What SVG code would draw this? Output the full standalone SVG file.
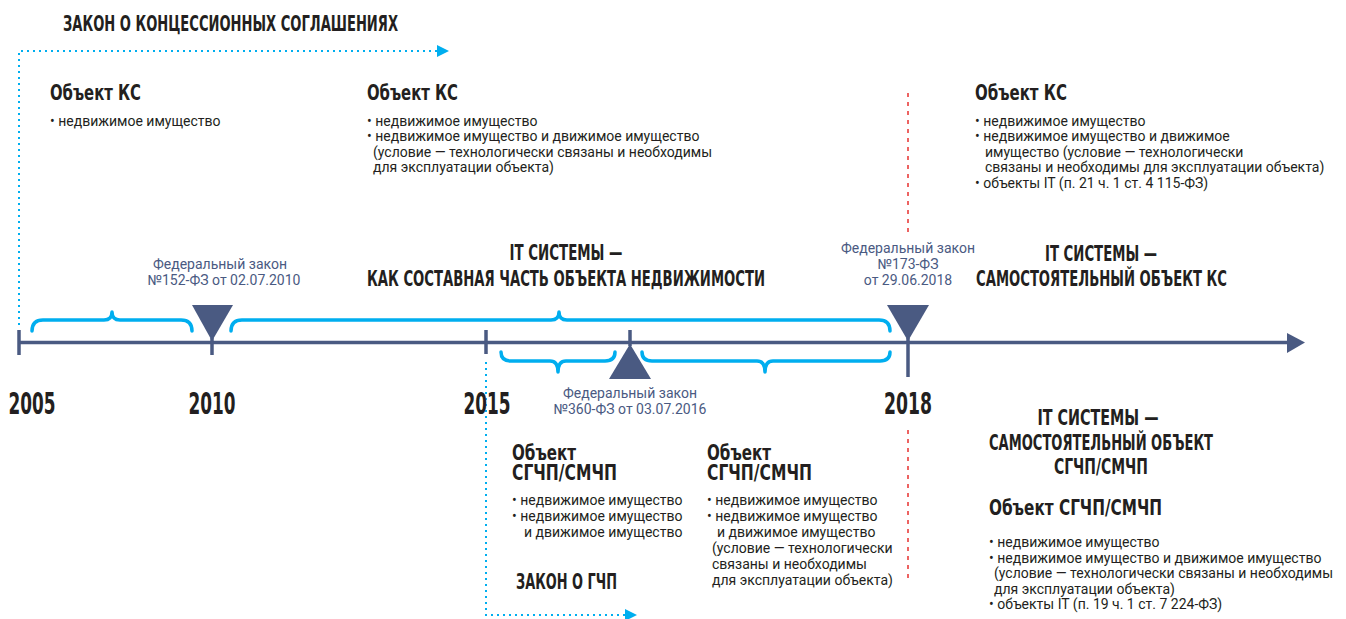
<svg xmlns="http://www.w3.org/2000/svg" width="1346" height="619" viewBox="0 0 1346 619">
<style>
.h{font-family:"Liberation Sans Narrow","DejaVu Sans Condensed","Liberation Sans",sans-serif;font-weight:bold;fill:#231f20;}
.t{font-family:Roboto,"Liberation Sans",sans-serif;font-size:14px;fill:#231f20;}
.f{font-family:Roboto,"Liberation Sans",sans-serif;font-size:14px;fill:#4a5a82;text-anchor:middle;}
.yr{font-family:"Liberation Sans Narrow","DejaVu Sans Condensed",sans-serif;font-weight:bold;font-size:30px;fill:#231f20;text-anchor:middle;}
.ax{stroke:#4a5a82;stroke-width:3.5;fill:none;}
.br{stroke:#00aeef;stroke-width:3.5;fill:none;stroke-linecap:round;stroke-linejoin:round;}
.dot{stroke:#00aeef;stroke-width:2;fill:none;stroke-dasharray:2 4;}
.red{stroke:#e8312f;stroke-width:1.5;fill:none;stroke-dasharray:4 5;}
.tri{fill:#4a5a82;}
.blu{fill:#00aeef;}
</style>
<rect width="1346" height="619" fill="#ffffff"/>
<g id="connectors">
<line class="ax" x1="19" y1="342.5" x2="1292" y2="342.5"/>
<polygon class="tri" points="1287,333 1305,342.5 1287,353"/>
<line class="ax" x1="19" y1="330" x2="19" y2="355"/>
<line class="ax" x1="212" y1="338" x2="212" y2="355"/>
<line class="ax" x1="486" y1="330" x2="486" y2="354"/>
<line class="ax" x1="630" y1="330" x2="630" y2="346"/>
<line class="ax" x1="908" y1="338" x2="908" y2="377"/>
<path class="br" d="M32,331 Q32,320 43,320 L104,320 Q112,320 112,312 Q112,320 120,320 L181,320 Q192,320 192,331"/>
<path class="br" d="M231,331 Q231,320 242,320 L551,320 Q559,320 559,312 Q559,320 567,320 L879,320 Q890,320 890,331"/>
<path class="br" d="M501,352 Q501,361 511,361 L550,361 Q558,361 558,372 Q558,361 566,361 L605,361 Q615,361 615,352"/>
<path class="br" d="M642,352 Q642,361 652,361 L757,361 Q765,361 765,372 Q765,361 773,361 L880,361 Q890,361 890,352"/>
<polyline class="dot" points="19,325 19,51 438,51"/>
<polygon class="blu" points="437,45 449,51 437,57"/>
<polyline class="dot" points="486,362 486,615 625,615"/>
<polygon class="blu" points="625,609 637,615 625,621"/>
<line class="red" x1="908" y1="93" x2="908" y2="232"/>
<line class="red" x1="908" y1="430" x2="908" y2="582"/>
</g>
<g id="markers">
<polygon class="tri" points="192,305 233,305 212,341"/>
<polygon class="tri" points="887,305 929,305 908,341"/>
<polygon class="tri" points="609,379 651,379 630,344"/>
</g>
<g id="years">
<text class="yr" x="32" y="414" textLength="47" lengthAdjust="spacingAndGlyphs">2005</text>
<text class="yr" x="212" y="414" textLength="47" lengthAdjust="spacingAndGlyphs">2010</text>
<text class="yr" x="487" y="414" textLength="47" lengthAdjust="spacingAndGlyphs">2015</text>
<text class="yr" x="908" y="414" textLength="48" lengthAdjust="spacingAndGlyphs">2018</text>
</g>
<g id="law-ks">
<text class="h" x="63" y="31" font-size="22" textLength="335" lengthAdjust="spacingAndGlyphs">ЗАКОН О КОНЦЕССИОННЫХ СОГЛАШЕНИЯХ</text>
</g>
<g id="ks-2005">
<text class="h" x="50" y="100" font-size="21" textLength="91" lengthAdjust="spacingAndGlyphs">Объект КС</text>
<text class="t" x="50" y="126">• недвижимое имущество</text>
</g>
<g id="ks-2010">
<text class="h" x="367" y="100" font-size="21" textLength="91" lengthAdjust="spacingAndGlyphs">Объект КС</text>
<text class="t" x="367" y="126">• недвижимое имущество</text>
<text class="t" x="367" y="141">• недвижимое имущество и движимое имущество</text>
<text class="t" x="373" y="157">(условие — технологически связаны и необходимы</text>
<text class="t" x="373" y="172">для эксплуатации объекта)</text>
</g>
<g id="ks-2018">
<text class="h" x="975" y="100" font-size="21" textLength="92" lengthAdjust="spacingAndGlyphs">Объект КС</text>
<text class="t" x="975" y="126">• недвижимое имущество</text>
<text class="t" x="975" y="141">• недвижимое имущество и движимое</text>
<text class="t" x="985" y="157">имущество (условие — технологически</text>
<text class="t" x="985" y="172">связаны и необходимы для эксплуатации объекта)</text>
<text class="t" x="975" y="188">• объекты IT (п. 21 ч. 1 ст. 4 115-ФЗ)</text>
</g>
<g id="fz152">
<text class="f" x="220" y="269">Федеральный закон</text>
<text class="f" x="224" y="285">№152-ФЗ от 02.07.2010</text>
</g>
<g id="it-part">
<text class="h" x="566" y="260" font-size="22" text-anchor="middle" textLength="113" lengthAdjust="spacingAndGlyphs">IT СИСТЕМЫ —</text>
<text class="h" x="367" y="286" font-size="22" textLength="398" lengthAdjust="spacingAndGlyphs">КАК СОСТАВНАЯ ЧАСТЬ ОБЪЕКТА НЕДВИЖИМОСТИ</text>
</g>
<g id="fz173">
<text class="f" x="908" y="253">Федеральный закон</text>
<text class="f" x="908" y="269">№173-ФЗ</text>
<text class="f" x="908" y="285">от 29.06.2018</text>
</g>
<g id="it-ks">
<text class="h" x="1101" y="261" font-size="22" text-anchor="middle" textLength="112" lengthAdjust="spacingAndGlyphs">IT СИСТЕМЫ —</text>
<text class="h" x="976" y="286" font-size="22" textLength="251" lengthAdjust="spacingAndGlyphs">САМОСТОЯТЕЛЬНЫЙ ОБЪЕКТ КС</text>
</g>
<g id="fz360">
<text class="f" x="630" y="398">Федеральный закон</text>
<text class="f" x="630" y="414">№360-ФЗ от 03.07.2016</text>
</g>
<g id="gchp-2015">
<text class="h" x="512" y="460" font-size="21" textLength="64" lengthAdjust="spacingAndGlyphs">Объект</text>
<text class="h" x="512" y="480" font-size="21" textLength="105" lengthAdjust="spacingAndGlyphs">СГЧП/СМЧП</text>
<text class="t" x="512" y="505">• недвижимое имущество</text>
<text class="t" x="512" y="521">• недвижимое имущество</text>
<text class="t" x="524" y="537">и движимое имущество</text>
</g>
<g id="law-gchp">
<text class="h" x="516" y="589" font-size="22" textLength="101" lengthAdjust="spacingAndGlyphs">ЗАКОН О ГЧП</text>
</g>
<g id="gchp-2016">
<text class="h" x="707" y="460" font-size="21" textLength="64" lengthAdjust="spacingAndGlyphs">Объект</text>
<text class="h" x="707" y="480" font-size="21" textLength="105" lengthAdjust="spacingAndGlyphs">СГЧП/СМЧП</text>
<text class="t" x="707" y="505">• недвижимое имущество</text>
<text class="t" x="707" y="521">• недвижимое имущество</text>
<text class="t" x="717" y="537">и движимое имущество</text>
<text class="t" x="712" y="553">(условие — технологически</text>
<text class="t" x="712" y="569">связаны и необходимы</text>
<text class="t" x="712" y="585">для эксплуатации объекта)</text>
</g>
<g id="it-gchp">
<text class="h" x="1098" y="425" font-size="22" text-anchor="middle" textLength="121" lengthAdjust="spacingAndGlyphs">IT СИСТЕМЫ —</text>
<text class="h" x="1101" y="450" font-size="22" text-anchor="middle" textLength="224" lengthAdjust="spacingAndGlyphs">САМОСТОЯТЕЛЬНЫЙ ОБЪЕКТ</text>
<text class="h" x="1101" y="474" font-size="22" text-anchor="middle" textLength="94" lengthAdjust="spacingAndGlyphs">СГЧП/СМЧП</text>
</g>
<g id="gchp-2018">
<text class="h" x="989" y="515" font-size="21" textLength="173" lengthAdjust="spacingAndGlyphs">Объект СГЧП/СМЧП</text>
<text class="t" x="989" y="547">• недвижимое имущество</text>
<text class="t" x="989" y="563">• недвижимое имущество и движимое имущество</text>
<text class="t" x="994" y="578">(условие — технологически связаны и необходимы</text>
<text class="t" x="994" y="594">для эксплуатации объекта)</text>
<text class="t" x="989" y="609">• объекты IT (п. 19 ч. 1 ст. 7 224-ФЗ)</text>
</g>
</svg>
